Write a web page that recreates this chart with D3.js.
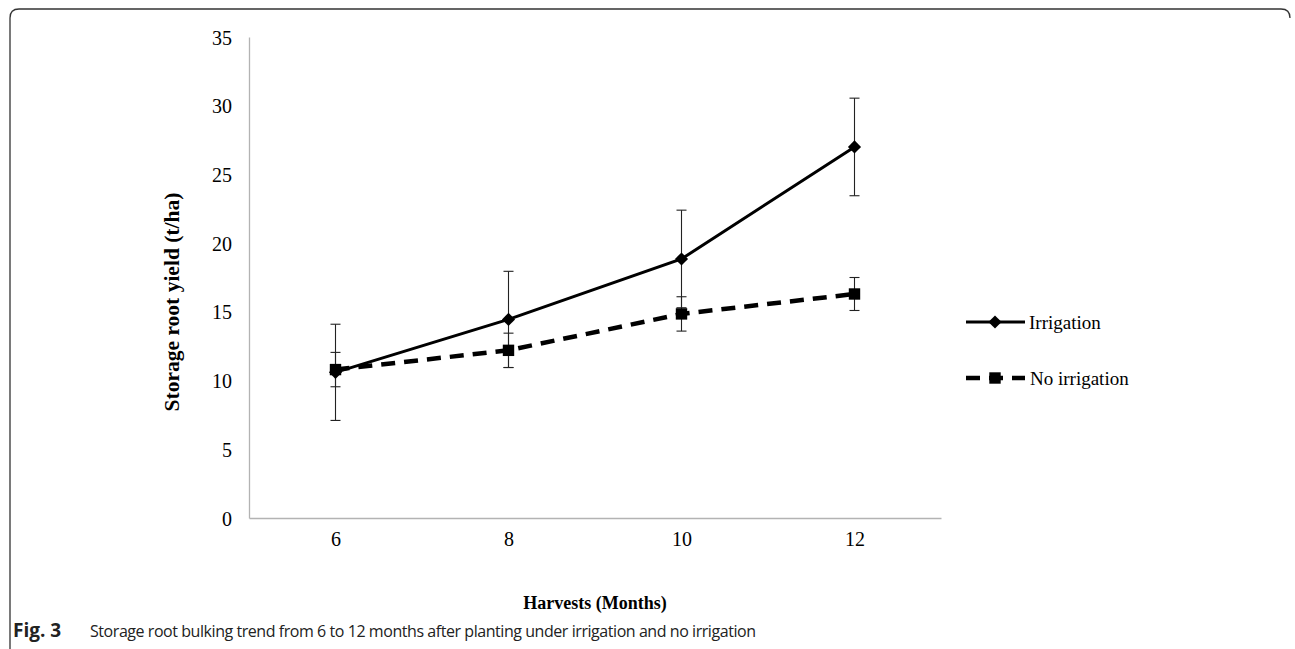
<!DOCTYPE html>
<html>
<head>
<meta charset="utf-8">
<script src="https://cdn.jsdelivr.net/npm/d3@7"></script>
<style>
  body { margin: 0; background: #fff; }
  svg { display: block; }
</style>
</head>
<body>
<svg id="viz"></svg>
<script>
var width = 1295;
var height = 649;

// chart data
var months = ["6", "8", "10", "12"];
var irrigation = [10.6, 14.45, 18.85, 27.0];
var irrigationErr = [3.5, 3.5, 3.55, 3.55];
var noIrrigation = [10.8, 12.2, 14.85, 16.3];
var noIrrigationErr = [1.25, 1.25, 1.25, 1.2];
var yTicks = [0, 5, 10, 15, 20, 25, 30, 35];

var svg = d3.select("#viz").attr("width", width).attr("height", height);

// frame round the figure (top + left edge, rounded corners)
svg.append("path")
    .attr("d", "M10,649 L10,18 Q10,9 19,9 L1281,9 Q1290,9 1290,18")
    .attr("fill", "none")
    .attr("stroke", "#333")
    .attr("stroke-width", 1.3);

var x = d3.scalePoint().domain(months).range([249, 941]).padding(0.5);
var y = d3.scaleLinear().domain([0, 35]).range([518, 37]);

var serif = "'Liberation Serif', 'Times New Roman', serif";

// axes
var yAxis = svg.append("g")
    .attr("transform", "translate(249,0)")
    .call(d3.axisLeft(y).tickValues(yTicks).tickSize(0).tickPadding(17));
var xAxis = svg.append("g")
    .attr("transform", "translate(0,518)")
    .call(d3.axisBottom(x).tickSize(0).tickPadding(14));

[yAxis, xAxis].forEach(function(a) {
    a.select(".domain").attr("stroke", "#b3b3b3").attr("stroke-width", 1.3);
    a.selectAll("text")
        .style("font-family", serif)
        .style("font-size", "20px")
        .attr("fill", "#000");
});
yAxis.selectAll("text").attr("dy", "0.35em");

// axis titles
svg.append("text")
    .attr("x", 595).attr("y", 609)
    .attr("text-anchor", "middle")
    .style("font-family", serif).style("font-size", "18px").style("font-weight", 700)
    .text("Harvests (Months)");

svg.append("text")
    .attr("transform", "translate(179,302) rotate(-90)")
    .attr("text-anchor", "middle")
    .style("font-family", serif).style("font-size", "21.5px").style("font-weight", 700)
    .text("Storage root yield (t/ha)");

var series = [
    {name: "Irrigation", values: irrigation, err: irrigationErr, dash: null, width: 3, marker: "diamond"},
    {name: "No irrigation", values: noIrrigation, err: noIrrigationErr, dash: "14,9", width: 4.5, marker: "square"}
];

var line = d3.line()
    .x(function(d) { return x(d.m); })
    .y(function(d) { return y(d.v); });

function points(s) {
    return s.values.map(function(v, i) { return {m: months[i], v: v, e: s.err[i]}; });
}

// error bars first, lines and markers on top
series.forEach(function(s) {
    var g = svg.append("g").attr("class", "errors");
    var pts = points(s);
    g.selectAll("line.stem").data(pts).enter().append("line")
        .attr("x1", function(d) { return x(d.m); })
        .attr("x2", function(d) { return x(d.m); })
        .attr("y1", function(d) { return y(d.v + d.e); })
        .attr("y2", function(d) { return y(d.v - d.e); })
        .attr("stroke", "#222").attr("stroke-width", 1.1);
    [1, -1].forEach(function(sign) {
        g.selectAll("line.cap" + sign).data(pts).enter().append("line")
            .attr("x1", function(d) { return x(d.m) - 5; })
            .attr("x2", function(d) { return x(d.m) + 5; })
            .attr("y1", function(d) { return y(d.v + sign * d.e); })
            .attr("y2", function(d) { return y(d.v + sign * d.e); })
            .attr("stroke", "#222").attr("stroke-width", 1.1);
    });
});

var diamond = d3.symbol().type(d3.symbolDiamond2).size(110);
var square = d3.symbol().type(d3.symbolSquare).size(130);

series.slice().reverse().forEach(function(s) {
    var pts = points(s);
    svg.append("path")
        .datum(pts)
        .attr("d", line)
        .attr("fill", "none")
        .attr("stroke", "#000")
        .attr("stroke-width", s.width)
        .attr("stroke-dasharray", s.dash);
    svg.append("g").selectAll("path").data(pts).enter().append("path")
        .attr("d", s.marker == "diamond" ? diamond : square)
        .attr("transform", function(d) { return "translate(" + x(d.m) + "," + y(d.v) + ")"; })
        .attr("fill", "#000");
});

// legend
var legend = svg.append("g").attr("class", "legend");
series.forEach(function(s, i) {
    var ly = 322 + i * 56;
    var g = legend.append("g");
    g.append("line")
        .attr("x1", 966).attr("x2", 1025).attr("y1", ly).attr("y2", ly)
        .attr("stroke", "#000").attr("stroke-width", s.width)
        .attr("stroke-dasharray", s.dash);
    g.append("path")
        .attr("d", s.marker == "diamond" ? diamond : square)
        .attr("transform", "translate(995," + ly + ")")
        .attr("fill", "#000");
    g.append("text")
        .attr("x", s.marker == "diamond" ? 1029 : 1030).attr("y", ly)
        .attr("dy", "0.35em")
        .style("font-family", serif).style("font-size", "19px")
        .text(s.name);
});

// caption
var cap = svg.append("text")
    .attr("x", 13).attr("y", 637)
    .style("font-family", "'Liberation Sans Narrow', 'Open Sans', sans-serif")
    .style("font-size", "16px")
    .attr("fill", "#222");
cap.append("tspan").style("font-weight", 700).style("font-size", "19px")
    .text("Fig. 3");
cap.append("tspan").attr("x", 90)
    .attr("textLength", 666)
    .text("Storage root bulking trend from 6 to 12 months after planting under irrigation and no irrigation");
</script>
</body>
</html>
